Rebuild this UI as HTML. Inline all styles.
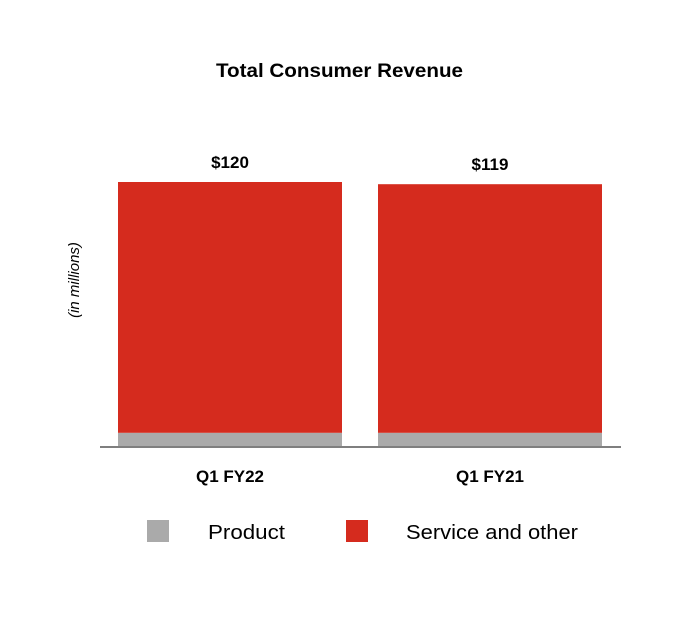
<!DOCTYPE html>
<html><head><meta charset="utf-8">
<style>
html,body{margin:0;padding:0;background:#fff;}
body{width:680px;height:612px;overflow:hidden;font-family:"Liberation Sans",sans-serif;}
</style></head>
<body>
<svg id="chart" width="680" height="612" xmlns="http://www.w3.org/2000/svg"></svg>
<script>
const categories = ["Q1 FY22", "Q1 FY21"];
const productValues = [6, 6];
const serviceValues = [114, 113];
const totalLabels = ["$120", "$119"];

const svg = document.getElementById('chart');
const NS = 'http://www.w3.org/2000/svg';
function mk(tag, attrs, text) {
  const e = document.createElementNS(NS, tag);
  for (const k in attrs) e.setAttribute(k, attrs[k]);
  if (text !== undefined) e.textContent = text;
  svg.appendChild(e);
  return e;
}
const baseY = 446, pxPerUnit = 2.2;
const yScale = v => baseY - v * pxPerUnit;
const barLefts = x => 118 + x * 260;
const barW = 224;

let t = mk('text', {x: 216, y: 77, 'font-size': 19, 'font-weight': 'bold', fill: '#000', textLength: 247, lengthAdjust: 'spacingAndGlyphs'}, 'Total Consumer Revenue');



t = mk('text', {x: 0, y: 0, 'text-anchor': 'middle', 'font-size': 15, 'font-style': 'italic', fill: '#000', transform: 'translate(79,280) rotate(-90)'}, '(in millions)');



categories.forEach((c, i) => {
  const x = barLefts(i);
  const pTop = yScale(productValues[i]);
  const sTop = yScale(productValues[i] + serviceValues[i]);
  let r = mk('rect', {x: x, y: pTop, width: barW, height: baseY - pTop, fill: '#aaaaaa'});
  
  
  r = mk('rect', {x: x, y: sTop, width: barW, height: pTop - sTop, fill: '#d52b1e'});
  
  
  let l = mk('text', {x: x + barW / 2, y: sTop - 14, 'text-anchor': 'middle', 'font-size': 17, 'font-weight': 'bold', fill: '#000'}, totalLabels[i]);
  
  
  l = mk('text', {x: x + barW / 2, y: 482, 'text-anchor': 'middle', 'font-size': 17, 'font-weight': 'bold', fill: '#000'}, c);
  
  
});

let ax = mk('line', {x1: 100, y1: 447, x2: 621, y2: 447, stroke: '#555', 'stroke-width': 1.5});



let s = mk('rect', {x: 147, y: 520, width: 22, height: 22, fill: '#aaaaaa'});


s = mk('text', {x: 208, y: 539, 'font-size': 20, fill: '#000', textLength: 77, lengthAdjust: 'spacingAndGlyphs'}, 'Product');


s = mk('rect', {x: 346, y: 520, width: 22, height: 22, fill: '#d52b1e'});


s = mk('text', {x: 406, y: 539, 'font-size': 20, fill: '#000', textLength: 172, lengthAdjust: 'spacingAndGlyphs'}, 'Service and other');


</script>
</body></html>
